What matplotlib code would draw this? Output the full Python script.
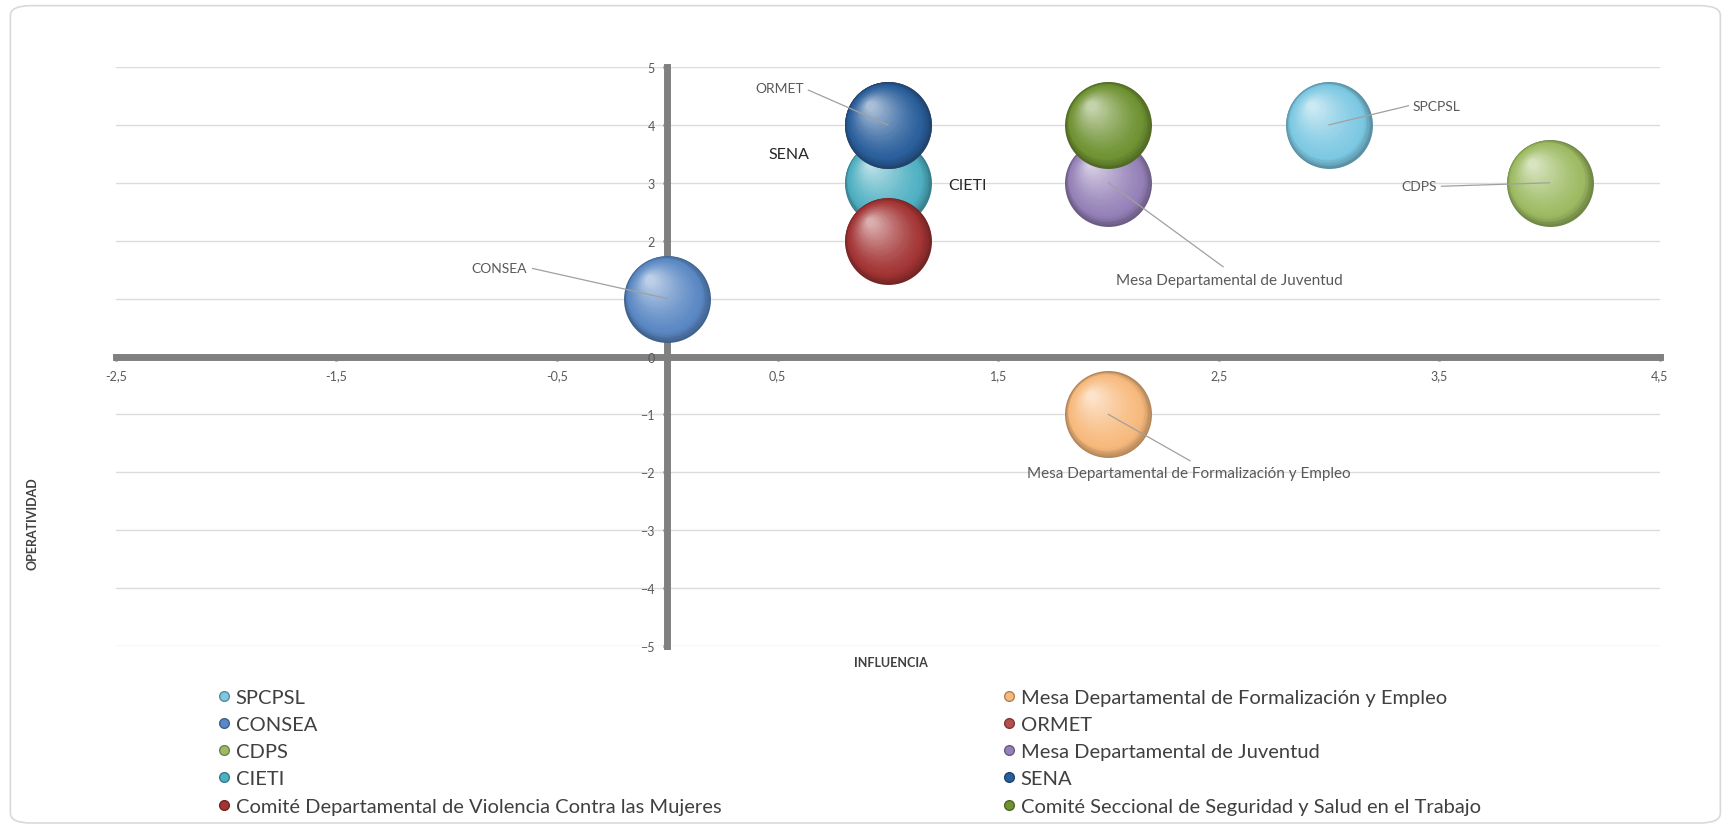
import matplotlib
matplotlib.use("Agg")
import matplotlib.pyplot as plt
import matplotlib.transforms as mtransforms
from matplotlib.lines import Line2D
from matplotlib.patches import FancyBboxPatch
from matplotlib.colors import to_rgb
import numpy as np

plt.rcParams['font.family'] = ['Lato', 'DejaVu Sans']

# datos (influencia, operatividad)
nombres = ["SPCPSL", "CONSEA", "CDPS", "CIETI",
           "Comité Departamental de Violencia Contra las Mujeres",
           "Mesa Departamental de Formalización y Empleo", "ORMET",
           "Mesa Departamental de Juventud", "SENA",
           "Comité Seccional de Seguridad y Salud en el Trabajo"]
influencia = [3, 0, 4, 1, 1, 2, 1, 2, 1, 2]
operatividad = [4, 1, 3, 3, 2, -1, 4, 3, 4, 4]
colores = ["#7cc8e2", "#5a88c4", "#9dbb62", "#4eb0c2", "#a33434",
           "#f7b97c", "#b4504d", "#9581b8", "#2a5f9c", "#6f9232"]

xticks = [-2.5, -1.5, -0.5, 0.5, 1.5, 2.5, 3.5, 4.5]
xtick_labels = ["-2,5", "-1,5", "-0,5", "0,5", "1,5", "2,5", "3,5", "4,5"]
yticks = list(range(-5, 6))

fig = plt.figure(figsize=(17.29, 8.29), dpi=100)
ax = fig.add_axes([0.067, 0.2195, 0.893, 0.6985])

# marco exterior
fig.patches.append(FancyBboxPatch((0.006, 0.006), 0.989, 0.986,
                                  boxstyle="round,pad=0,rounding_size=0.012",
                                  transform=fig.transFigure, fill=False,
                                  edgecolor="#d9d9d9", linewidth=1.2))

ax.set_xlim(-2.5, 4.5)
ax.set_ylim(-5, 5)
ax.set_xticks(xticks)
ax.set_xticklabels(xtick_labels)
ax.set_yticks(yticks)
for y in yticks:
    ax.axhline(y, color="#dcdcdc", linewidth=1, zorder=0)

for s in ["top", "right"]:
    ax.spines[s].set_visible(False)
ax.spines["left"].set_position(("data", 0))
ax.spines["bottom"].set_position(("data", 0))
for s in ["left", "bottom"]:
    ax.spines[s].set_color("#808080")
    ax.spines[s].set_linewidth(5)
    ax.spines[s].set_zorder(1)
ax.tick_params(colors="#808080", labelcolor="#595959", labelsize=9,
               length=3, width=2, pad=6)

# burbujas con efecto de esfera
D = 62.6  # diametro en puntos
n = 30
for k, (x, y, c) in enumerate(zip(influencia, operatividad, colores)):
    base = np.array(to_rgb(c))
    dark = base * 0.72
    light = base + (1 - base) * 0.6
    for i in range(n):
        t = i / (n - 1)
        d = D * (1 - 0.9 * t)
        tr = mtransforms.offset_copy(ax.transData, fig=fig,
                                     x=-0.2 * D * t, y=0.22 * D * t, units="points")
        if t < 0.15:
            col = dark + (base - dark) * (t / 0.15)
        else:
            col = base + (light - base) * ((t - 0.15) / 0.85) ** 1.3
        ax.scatter([x], [y], s=d ** 2, color=col, transform=tr,
                   linewidths=0, zorder=2 + k + i * 0.01, clip_on=False)

# etiquetas
gris = "#595959"
lc = "#a0a0a0"
def etiqueta(texto, tx, ty, px, py, ha, lx, ly, size=10, color=gris):
    ax.text(tx, ty, texto, ha=ha, va="center", fontsize=size,
            color=color, zorder=30)
    if px is not None:
        ax.plot([lx, px], [ly, py], color=lc, linewidth=0.9, zorder=29)

etiqueta("ORMET", 0.62, 4.64, influencia[6], operatividad[6], "right", 0.64, 4.6)
etiqueta("SPCPSL", 3.38, 4.33, influencia[0], operatividad[0], "left", 3.36, 4.33)
etiqueta("CDPS", 3.49, 2.94, influencia[2], operatividad[2], "right", 3.51, 2.94)
etiqueta("CONSEA", -0.635, 1.53, influencia[1], operatividad[1], "right", -0.61, 1.52)
etiqueta("Mesa Departamental de Juventud", 2.55, 1.32, influencia[7], operatividad[7],
         "center", 2.52, 1.55, size=11)
etiqueta("Mesa Departamental de Formalización y Empleo", 2.365, -2.01,
         influencia[5], operatividad[5], "center", 2.37, -1.8, size=11)
etiqueta("SENA", 0.55, 3.5, None, None, "center", 0, 0, size=11.5, color="#262626")
etiqueta("CIETI", 1.275, 2.96, None, None, "left", 0, 0, size=11.5, color="#262626")

fig.text(0.019, 0.368, "OPERATIVIDAD", rotation=90, ha="center", va="center",
         fontsize=9, fontweight="bold", color="#404040")
fig.text(0.515, 0.200, "INFLUENCIA", ha="center", va="center",
         fontsize=9, fontweight="bold", color="#404040")

# leyenda en dos columnas
handles = [Line2D([], [], marker="o", linestyle="none", markersize=7,
                  markerfacecolor=c, markeredgecolor=np.array(to_rgb(c)) * 0.7)
           for c in colores]
for j, xpos in enumerate([0.12, 0.574]):
    leg = fig.legend(handles[j * 5:(j + 1) * 5], nombres[j * 5:(j + 1) * 5],
                     loc="upper left", bbox_to_anchor=(xpos, 0.18),
                     frameon=False, fontsize=14.5, borderpad=0,
                     handlelength=0.6, handletextpad=0.3, labelspacing=0.5,
                     labelcolor="#404040")

fig.savefig("out.png", dpi=100)
